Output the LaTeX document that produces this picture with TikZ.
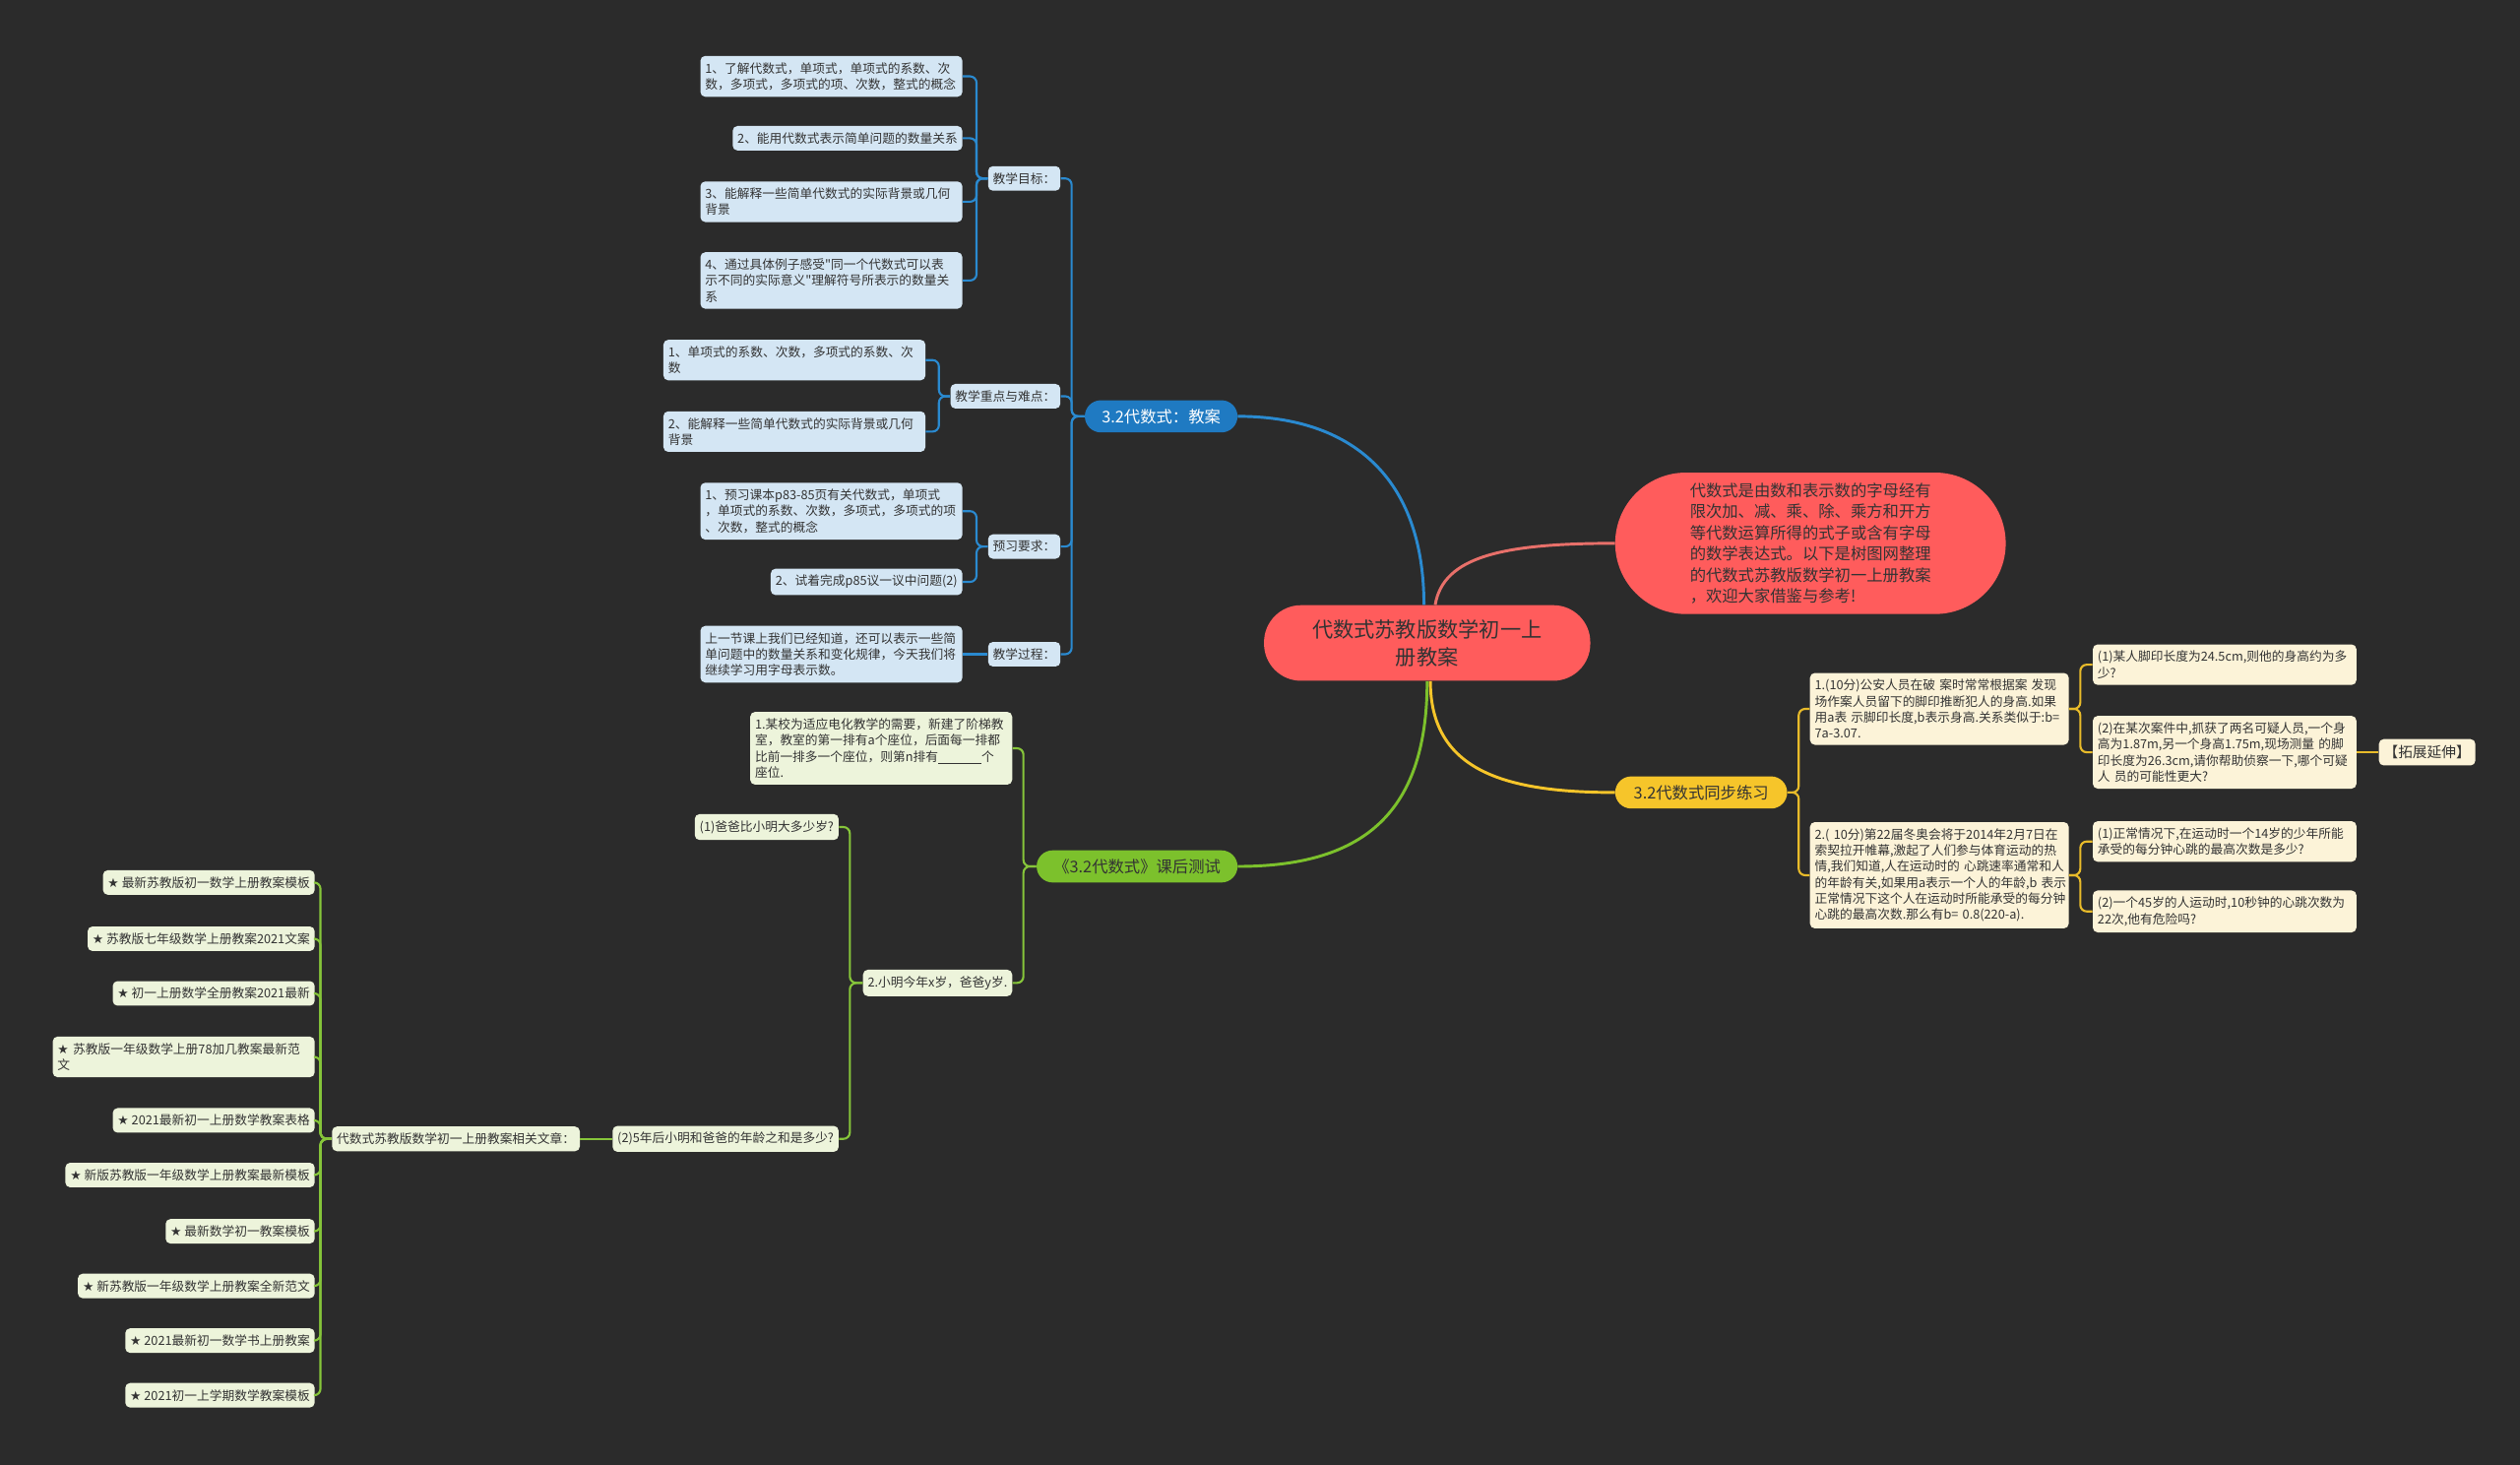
\documentclass[tikz,border=0pt]{standalone}
\usepackage{fontspec}
\setmainfont{Noto Sans CJK SC}
\newfontfamily\qfont{Noto Sans CJK SC}
\newfontfamily\starfont{DejaVu Sans}
\usepackage{tikz}

\definecolor{bgdark}{HTML}{2B2B2B}
\definecolor{inkdark}{HTML}{333333}
\definecolor{rootred}{HTML}{FF5C5C}
\definecolor{redline}{HTML}{E8706A}
\definecolor{bluemain}{HTML}{1F7AC2}
\definecolor{blueline}{HTML}{2A8AD0}
\definecolor{blueleaf}{HTML}{D4E6F4}
\definecolor{greenmain}{HTML}{7CC12C}
\definecolor{greenline}{HTML}{86C53A}
\definecolor{greenleaf}{HTML}{EDF4DB}
\definecolor{yellmain}{HTML}{F6C52A}
\definecolor{yellline}{HTML}{E8BB2A}
\definecolor{yellleaf}{HTML}{FCF3D8}

\newcommand\lstar{{\starfont ★}}
\newcommand\dq{{\qfont"}}

\tikzset{
  leafbox/.style={font=\fontsize{7.8}{10}\selectfont, text=inkdark, inner xsep=3pt, inner ysep=4pt, rounded corners=3pt, align=left},
  bluebox/.style={leafbox, fill=blueleaf},
  greenbox/.style={leafbox, fill=greenleaf},
  yellbox/.style={leafbox, fill=yellleaf},
  widebox/.style={text width=157pt},
  branch/.style={font=\fontsize{10}{12}\selectfont, text=inkdark, minimum height=20pt, rounded corners=10pt, inner xsep=4pt, align=center},
  mainline/.style={line width=1.8pt},
  bconn/.style={draw=blueline, line width=1.3pt, rounded corners=4pt},
  gconn/.style={draw=greenline, line width=1.3pt, rounded corners=4pt},
  yconn/.style={draw=yellline, line width=1.3pt, rounded corners=4pt}
}

\begin{document}
\begin{tikzpicture}[x=1pt, y=-1pt]
    \useasboundingbox (0,0) rectangle (1568,911);
    \fill[bgdark] (-5,-5) rectangle (1573,916);

    % root and intro
    \node[fill=rootred, text=inkdark, font=\fontsize{13}{17}\selectfont, align=center,
          minimum width=203pt, minimum height=47pt, rounded corners=23pt] (root) at (888,400)
          {代数式苏教版数学初一上\\册教案};
    \node[fill=rootred, text=inkdark, font=\fontsize{10}{13.2}\selectfont, align=left, text width=150pt,
          minimum width=243pt, minimum height=88pt, rounded corners=44pt] (intro) at (1126.5,338)
          {代数式是由数和表示数的字母经有\\限次加、减、乘、除、乘方和开方\\等代数运算所得的式子或含有字母\\的数学表达式。以下是树图网整理\\的代数式苏教版数学初一上册教案\\，欢迎大家借鉴与参考!};

    % branches
    \node[branch, fill=bluemain, text=white, minimum width=95pt] (tb) at (722.5,259) {3.2代数式：教案};
    \node[branch, fill=greenmain, minimum width=125pt] (grn) at (707.5,539) {《3.2代数式》课后测试};
    \node[branch, fill=yellmain, minimum width=107pt] (ylw) at (1058.5,493) {3.2代数式同步练习};

    \draw[mainline, blueline] ([xshift=-2pt]root.north) .. controls +(0,-80) and +(70,0) .. (tb.east);
    \draw[mainline, redline] ([xshift=5pt]root.north) .. controls +(5,-30) and +(-70,0) .. (intro.west);
    \draw[mainline, greenmain] (root.south) .. controls +(0,85) and +(75,0) .. (grn.east);
    \draw[mainline, yellmain] ([xshift=2pt]root.south) .. controls +(0,55) and +(-70,0) .. (ylw.west);

    % blue part
    \node[bluebox, anchor=east] (goal) at (660,111) {教学目标：};
    \node[bluebox, anchor=east] (key) at (660,246.5) {教学重点与难点：};
    \node[bluebox, anchor=east] (prev) at (660,340) {预习要求：};
    \node[bluebox, anchor=east] (proc) at (660,407) {教学过程：};

    \node[bluebox, widebox, anchor=east] (g1) at (599,47.5) {1、了解代数式，单项式，单项式的系数、次\\数，多项式，多项式的项、次数，整式的概念};
    \node[bluebox, anchor=east] (g2) at (599,86) {2、能用代数式表示简单问题的数量关系};
    \node[bluebox, widebox, anchor=east] (g3) at (599,125.5) {3、能解释一些简单代数式的实际背景或几何\\背景};
    \node[bluebox, widebox, anchor=east] (g4) at (599,174.5) {4、通过具体例子感受\dq 同一个代数式可以表\\示不同的实际意义\dq 理解符号所表示的数量关\\系};
    \node[bluebox, widebox, anchor=east] (k1) at (576,224) {1、单项式的系数、次数，多项式的系数、次\\数};
    \node[bluebox, widebox, anchor=east] (k2) at (576,268.5) {2、能解释一些简单代数式的实际背景或几何\\背景};
    \node[bluebox, widebox, anchor=east] (p1) at (599,318) {1、预习课本p83-85页有关代数式，单项式\\，单项式的系数、次数，多项式，多项式的项\\、次数，整式的概念};
    \node[bluebox, anchor=east] (p2) at (599,362) {2、试着完成p85议一议中问题(2)};
    \node[bluebox, widebox, anchor=east] (c1) at (599,407) {上一节课上我们已经知道，还可以表示一些简\\单问题中的数量关系和变化规律，今天我们将\\继续学习用字母表示数。};

    \foreach \n in {goal,key,prev,proc}
        \draw[bconn] (tb.west) -- ++(-8,0) |- (\n.east);
    \foreach \n in {g1,g2,g3,g4}
        \draw[bconn] (goal.west) -- ++(-7,0) |- (\n.east);
    \foreach \n in {k1,k2}
        \draw[bconn] (key.west) -- ++(-7,0) |- (\n.east);
    \foreach \n in {p1,p2}
        \draw[bconn] (prev.west) -- ++(-7,0) |- (\n.east);
    \draw[bconn] (proc.west) -- (c1.east);

    % green part
    \node[greenbox, widebox, anchor=east] (t1) at (630,465.5) {1.某校为适应电化教学的需要，新建了阶梯教\\室，教室的第一排有a个座位，后面每一排都\\比前一排多一个座位，则第n排有\rule[-1.5pt]{27pt}{0.5pt}个\\座位.};
    \node[greenbox, anchor=east] (t2) at (630,611.5) {2.小明今年x岁，爸爸y岁.};
    \node[greenbox, anchor=east] (t2a) at (522,514.5) {(1)爸爸比小明大多少岁?};
    \node[greenbox, anchor=east] (t2b) at (522,708.5) {(2)5年后小明和爸爸的年龄之和是多少?};
    \node[greenbox, anchor=east] (rel) at (361,708.5) {代数式苏教版数学初一上册教案相关文章：};

    \node[greenbox, anchor=east] (s1) at (196,549) {\lstar\ 最新苏教版初一数学上册教案模板};
    \node[greenbox, anchor=east] (s2) at (196,584) {\lstar\ 苏教版七年级数学上册教案2021文案};
    \node[greenbox, anchor=east] (s3) at (196,618) {\lstar\ 初一上册数学全册教案2021最新};
    \node[greenbox, widebox, anchor=east] (s4) at (196,657.5) {\lstar\ 苏教版一年级数学上册78加几教案最新范\\文};
    \node[greenbox, anchor=east] (s5) at (196,697) {\lstar\ 2021最新初一上册数学教案表格};
    \node[greenbox, anchor=east] (s6) at (196,731) {\lstar\ 新版苏教版一年级数学上册教案最新模板};
    \node[greenbox, anchor=east] (s7) at (196,766) {\lstar\ 最新数学初一教案模板};
    \node[greenbox, anchor=east] (s8) at (196,800) {\lstar\ 新苏教版一年级数学上册教案全新范文};
    \node[greenbox, anchor=east] (s9) at (196,834) {\lstar\ 2021最新初一数学书上册教案};
    \node[greenbox, anchor=east] (s10) at (196,868) {\lstar\ 2021初一上学期数学教案模板};

    \foreach \n in {t1,t2}
        \draw[gconn] (grn.west) -- ++(-8,0) |- (\n.east);
    \foreach \n in {t2a,t2b}
        \draw[gconn] (t2.west) -- ++(-8,0) |- (\n.east);
    \draw[gconn] (t2b.west) -- (rel.east);
    \foreach \n in {s1,s2,s3,s4,s5,s6,s7,s8,s9,s10}
        \draw[gconn] (rel.west) -- ++(-7,0) |- (\n.east);

    % yellow part
    \node[yellbox, text width=155pt, anchor=west] (y1) at (1126,441) {1.(10分)公安人员在破~案时常常根据案~发现\\场作案人员留下的脚印推断犯人的身高.如果\\用a表~示脚印长度,b表示身高.关系类似于:b=\\7a-3.07.};
    \node[yellbox, text width=155pt, anchor=west] (y2) at (1126,544.5) {2.(~10分)第22届冬奥会将于2014年2月7日在\\索契拉开帷幕,激起了人们参与体育运动的热\\情,我们知道,人在运动时的~心跳速率通常和人\\的年龄有关,如果用a表示一个人的年龄,b~表示\\正常情况下这个人在运动时所能承受的每分钟\\心跳的最高次数.那么有b=~0.8(220-a).};
    \node[yellbox, text width=158pt, anchor=west] (y1a) at (1302,413.5) {(1)某人脚印长度为24.5cm,则他的身高约为多\\少?};
    \node[yellbox, text width=158pt, anchor=west] (y1b) at (1302,468) {(2)在某次案件中,抓获了两名可疑人员,一个身\\高为1.87m,另一个身高1.75m,现场测量~的脚\\印长度为26.3cm,请你帮助侦察一下,哪个可疑\\人~员的可能性更大?};
    \node[yellbox, font=\fontsize{9}{11}\selectfont, anchor=west] (ext) at (1480,468) {【拓展延伸】};
    \node[yellbox, text width=158pt, anchor=west] (y2a) at (1302,523.5) {(1)正常情况下,在运动时一个14岁的少年所能\\承受的每分钟心跳的最高次数是多少?};
    \node[yellbox, text width=158pt, anchor=west] (y2b) at (1302,567) {(2)一个45岁的人运动时,10秒钟的心跳次数为\\22次,他有危险吗?};

    \foreach \n in {y1,y2}
        \draw[yconn] (ylw.east) -- ++(7,0) |- (\n.west);
    \foreach \n in {y1a,y1b}
        \draw[yconn] (y1.east) -- ++(7,0) |- (\n.west);
    \foreach \n in {y2a,y2b}
        \draw[yconn] (y2.east) -- ++(7,0) |- (\n.west);
    \draw[yconn] (y1b.east) -- (ext.west);
\end{tikzpicture}
\end{document}
